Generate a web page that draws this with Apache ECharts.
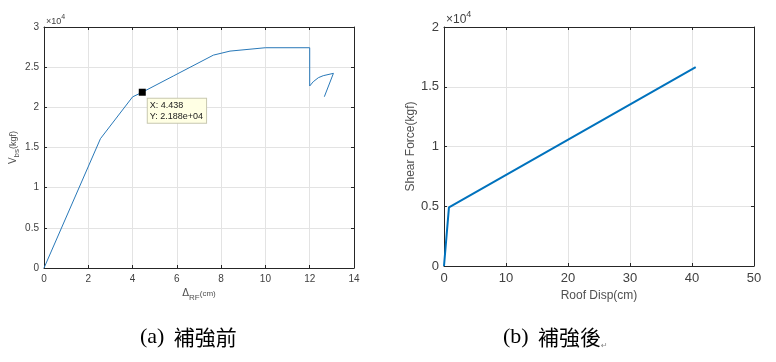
<!DOCTYPE html>
<html>
<head>
<meta charset="utf-8">
<script src="https://cdn.jsdelivr.net/npm/echarts@6/dist/echarts.min.js"></script>
<style>html,body{margin:0;padding:0;background:#fff;}#c{width:776px;height:362px;}</style>
</head>
<body>
<div id="c"></div>
<script>
// (a) before strengthening
const dispBefore  = [0, 2.55, 4.0, 4.438, 5.84, 7.65, 8.4, 10.0, 12.0, 12.0, 12.16, 12.39, 12.61, 13.07, 12.66];
const shearBefore = [0, 16100, 21300, 21880, 23900, 26500, 27000, 27420, 27420, 22660, 23190, 23690, 23940, 24230, 21320];
// data tip
const tipX = 4.438;
const tipY = 21880;
const tipLabels = ['X: 4.438', 'Y: 2.188e+04'];
// (b) after strengthening
const dispAfter  = [0, 0.8, 40.6];
const shearAfter = [0, 4900, 16650];
// axes
const xTicksA = [0, 14, 2];
const yTicksA = [0, 30000, 5000];
const xTicksB = [0, 50, 10];
const yTicksB = [0, 20000, 5000];
const captionA = '補強前';
const captionB = '補強後';

const chart = echarts.init(document.getElementById('c'), null, {renderer: 'canvas'});
const gridColor = '#e3e3e3';
const axisColor = '#262626';
const tickColor = '#404040';

function xAxes(gi, t, fs, name, nameGap, rich) {
  return [{
    type: 'value', gridIndex: gi, min: t[0], max: t[1], interval: t[2], position: 'bottom',
    axisLine: {show: true, onZero: false, lineStyle: {color: axisColor, width: 1}},
    axisTick: {show: true, inside: true, length: 3, lineStyle: {color: axisColor}},
    axisLabel: {color: tickColor, fontSize: fs, fontFamily: 'Liberation Sans, Arial', margin: 6},
    splitLine: {show: true, lineStyle: {color: gridColor, width: 1}},
    name: name, nameLocation: 'middle', nameGap: nameGap,
    nameTextStyle: {color: '#505050', fontSize: fs - 1, fontFamily: 'Liberation Sans, Arial', rich: rich}
  }, {
    type: 'value', gridIndex: gi, min: t[0], max: t[1], interval: t[2], position: 'top',
    axisLine: {show: true, onZero: false, lineStyle: {color: axisColor, width: 1}},
    axisTick: {show: true, inside: true, length: 3, lineStyle: {color: axisColor}},
    axisLabel: {show: false}, splitLine: {show: false}
  }];
}
function yAxes(gi, t, fs, name, nameGap, rich) {
  return [{
    type: 'value', gridIndex: gi, min: t[0], max: t[1], interval: t[2], position: 'left',
    axisLine: {show: true, onZero: false, lineStyle: {color: axisColor, width: 1}},
    axisTick: {show: true, inside: true, length: 3, lineStyle: {color: axisColor}},
    axisLabel: {color: tickColor, fontSize: fs, fontFamily: 'Liberation Sans, Arial', margin: 5,
      formatter: v => String(v / 10000)},
    splitLine: {show: true, lineStyle: {color: gridColor, width: 1}},
    name: name, nameLocation: 'middle', nameGap: nameGap, nameRotate: 90,
    nameTextStyle: {color: '#505050', fontSize: fs - 1, fontFamily: 'Liberation Sans, Arial', rich: rich}
  }, {
    type: 'value', gridIndex: gi, min: t[0], max: t[1], interval: t[2], position: 'right',
    axisLine: {show: true, onZero: false, lineStyle: {color: axisColor, width: 1}},
    axisTick: {show: true, inside: true, length: 3, lineStyle: {color: axisColor}},
    axisLabel: {show: false}, splitLine: {show: false}
  }];
}

const richA_y = {
  v: {fontSize: 10, color: '#505050', fontFamily: 'Liberation Sans, Arial', lineHeight: 16, verticalAlign: 'middle'},
  s: {fontSize: 8, color: '#505050', fontFamily: 'Liberation Sans, Arial', lineHeight: 16, verticalAlign: 'bottom'},
  u: {fontSize: 9, color: '#505050', fontFamily: 'Liberation Sans, Arial', lineHeight: 16, verticalAlign: 'middle'}
};
const richA_x = {
  d: {fontSize: 10, color: '#505050', fontFamily: 'DejaVu Sans', lineHeight: 16, verticalAlign: 'middle'},
  s: {fontSize: 8, color: '#505050', fontFamily: 'Liberation Sans, Arial', lineHeight: 16, verticalAlign: 'bottom'},
  v: {fontSize: 8, color: '#505050', fontFamily: 'Liberation Sans, Arial', lineHeight: 16, verticalAlign: 'middle'}
};

const xa = xAxes(0, xTicksA, 10, '{d|Δ}{s|RF}{v|(cm)}', 17, richA_x);
const ya = yAxes(0, yTicksA, 10, '{v|V}{s|bs}{u|(kgf)}', 22, richA_y);
const xb = xAxes(1, xTicksB, 13, 'Roof Disp(cm)', 22, null);
const yb = yAxes(1, yTicksB, 13, 'Shear Force(kgf)', 25, null);

const option = {
  animation: false,
  backgroundColor: '#ffffff',
  grid: [
    {left: 44, top: 27, width: 310, height: 241, show: false},
    {left: 444, top: 27, width: 310, height: 239, show: false}
  ],
  xAxis: [xa[0], xa[1], xb[0], xb[1]],
  yAxis: [ya[0], ya[1], yb[0], yb[1]],
  series: [
    {
      type: 'line', xAxisIndex: 0, yAxisIndex: 0, showSymbol: false, symbol: 'none', z: 2,
      data: dispBefore.map((x, i) => [x, shearBefore[i]]),
      lineStyle: {color: '#2878b8', width: 1}
    },
    {
      type: 'scatter', xAxisIndex: 0, yAxisIndex: 0, symbol: 'rect', symbolSize: 7, z: 10,
      itemStyle: {color: '#000000', opacity: 1},
      data: [[tipX, tipY]],
      label: {
        show: true, position: [9, 10], align: 'left', verticalAlign: 'top',
        formatter: tipLabels.join('\n'),
        fontSize: 9, lineHeight: 11, color: '#202020', fontFamily: 'Liberation Sans, Arial',
        backgroundColor: '#ffffe4', borderColor: '#c8c8b0', borderWidth: 1,
        padding: [1, 3, 1, 2]
      }
    },
    {
      type: 'line', xAxisIndex: 2, yAxisIndex: 2, showSymbol: false, symbol: 'none',
      data: dispAfter.map((x, i) => [x, shearAfter[i]]),
      lineStyle: {color: '#0072BD', width: 2}
    }
  ],
  graphic: [
    {type: 'text', left: 46, top: 14, style: {
      text: '{m|×10}{e|4}', rich: {
        m: {fontSize: 9, fill: '#404040', fontFamily: 'Liberation Sans, Arial', lineHeight: 12, verticalAlign: 'bottom'},
        e: {fontSize: 7, fill: '#404040', fontFamily: 'Liberation Sans, Arial', lineHeight: 12, verticalAlign: 'top'}
      }}},
    {type: 'text', left: 446, top: 10, style: {
      text: '{m|×10}{e|4}', rich: {
        m: {fontSize: 12, fill: '#404040', fontFamily: 'Liberation Sans, Arial', lineHeight: 16, verticalAlign: 'bottom'},
        e: {fontSize: 9, fill: '#404040', fontFamily: 'Liberation Sans, Arial', lineHeight: 16, verticalAlign: 'top'}
      }}},
    {type: 'text', left: 140, top: 326, style: {
      text: '{a|(a)}{c|  ' + captionA + '}', rich: {
        a: {fontSize: 22, fill: '#000', fontFamily: 'Liberation Serif', lineHeight: 26},
        c: {fontSize: 21, fill: '#000', fontFamily: 'Noto Sans CJK TC', lineHeight: 26}
      }}},
    {type: 'text', left: 503, top: 326, style: {
      text: '{a|(b)}{c|  ' + captionB + '}{r|↵}', rich: {
        a: {fontSize: 22, fill: '#000', fontFamily: 'Liberation Serif', lineHeight: 26},
        c: {fontSize: 21, fill: '#000', fontFamily: 'Noto Sans CJK TC', lineHeight: 26},
        r: {fontSize: 8, fill: '#888', fontFamily: 'DejaVu Sans', lineHeight: 26, verticalAlign: 'bottom'}
      }}}
  ]
};
chart.setOption(option);
</script>
</body>
</html>
